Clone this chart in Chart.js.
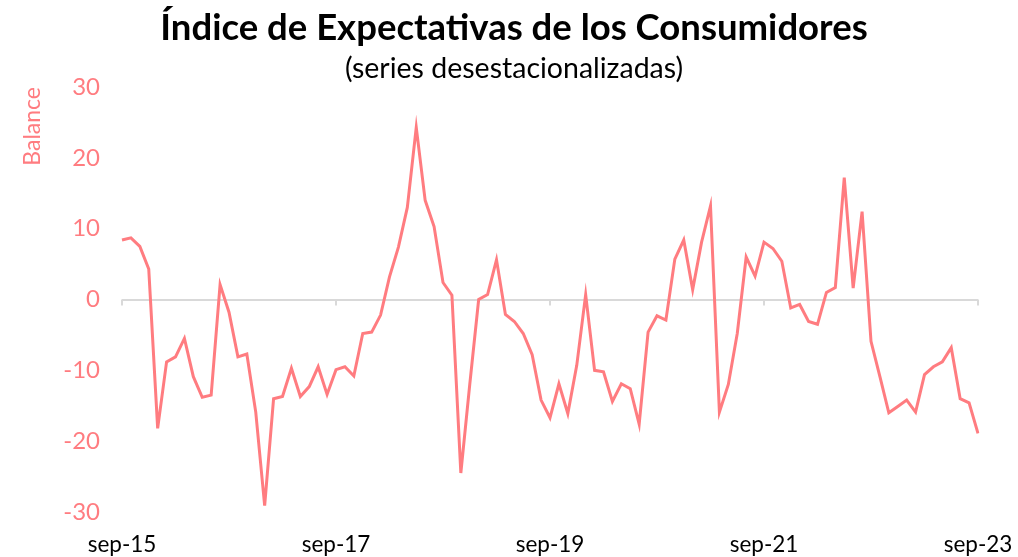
<!DOCTYPE html>
<html>
<head>
<meta charset="utf-8">
<script src="https://cdn.jsdelivr.net/npm/chart.js@4"></script>
<style>
  html, body { margin: 0; padding: 0; background: #fff; }
  #wrap { width: 1018px; height: 557px; }
</style>
</head>
<body>
<div id="wrap"><canvas id="chart"></canvas></div>
<script>
// months sep-15 .. sep-23
const months = ['ene', 'feb', 'mar', 'abr', 'may', 'jun', 'jul', 'ago', 'sep', 'oct', 'nov', 'dic'];
const labels = [];
for (let i = 0; i < 97; i++) {
  const m = (8 + i) % 12;
  const y = 15 + Math.floor((8 + i) / 12);
  labels.push(months[m] + '-' + y);
}

// Balance, series desestacionalizadas
const balance = [
  8.4, 8.7, 7.5, 4.3, -18.2, -8.8, -8.1, -5.5, -10.9, -13.8, -13.5, 2.1,
  -1.8, -8.1, -7.7, -15.9, -29.1, -14.0, -13.7, -9.7, -13.7, -12.3, -9.5, -13.4,
  -9.9, -9.5, -10.8, -4.8, -4.6, -2.2, 3.2, 7.4, 13.0, 24.3, 14.0, 10.3,
  2.4, 0.6, -24.5, -12.0, 0.0, 0.7, 5.6, -2.1, -3.1, -4.8, -7.8, -14.2,
  -16.7, -11.9, -16.1, -9.3, 0.7, -10.0, -10.2, -14.4, -11.9, -12.6, -17.6, -4.6,
  -2.3, -2.9, 5.7, 8.4, 1.4, 8.1, 13.2, -15.9, -12.0, -4.8, 6.0, 3.3,
  8.1, 7.2, 5.4, -1.2, -0.7, -3.1, -3.5, 1.0, 1.7, 17.2, 1.6, 12.4,
  -5.9, -10.9, -16.0, -15.1, -14.2, -15.9, -10.6, -9.5, -8.8, -6.8, -14.0, -14.6,
  -18.9
];

const yTicks = [-30, -20, -10, 0, 10, 20, 30];
const labelEvery = 24;

const pink = '#FF7C80';
const fontFam = 'Lato, "Open Sans", sans-serif';

// little tick marks hanging under the zero line
const zeroTicks = {
  id: 'zeroTicks',
  beforeDatasetsDraw(chart) {
    const { ctx, scales: { x, y } } = chart;
    const y0 = y.getPixelForValue(0);
    ctx.save();
    ctx.strokeStyle = '#d9d9d9';
    ctx.lineWidth = 2;
    ctx.beginPath();
    for (let i = 0; i < labels.length; i += labelEvery) {
      const px = x.getPixelForValue(i);
      ctx.moveTo(px, y0);
      ctx.lineTo(px, y0 + 6);
    }
    ctx.stroke();
    ctx.restore();
  }
};

new Chart(document.getElementById('chart'), {
  type: 'line',
  data: {
    labels: labels,
    datasets: [{
      label: 'Balance',
      data: balance,
      borderColor: pink,
      borderWidth: 3,
      pointRadius: 0,
      tension: 0
    }]
  },
  options: {
    responsive: true,
    maintainAspectRatio: false,
    animation: false,
    layout: { padding: { left: 10, right: 0, top: 0, bottom: 0 } },
    plugins: {
      legend: { display: false },
      tooltip: { enabled: false },
      title: {
        display: true,
        text: 'Índice de Expectativas de los Consumidores',
        color: '#000',
        font: { family: fontFam, size: 36.5, weight: 'bold' },
        padding: { top: 6, bottom: 1 }
      },
      subtitle: {
        display: true,
        text: '(series desestacionalizadas)',
        color: '#000',
        font: { family: fontFam, size: 28.5 },
        padding: { top: 1, bottom: 1 }
      }
    },
    scales: {
      x: {
        offset: false,
        afterFit: s => { s.height = 45; s.paddingRight = 40; },
        border: { display: false },
        grid: { display: false, drawTicks: false },
        ticks: {
          autoSkip: false,
          maxRotation: 0,
          padding: 19,
          color: '#000',
          font: { family: fontFam, size: 22.5 },
          callback: (v, i) => (i % labelEvery === 0 ? labels[i] : '')
        }
      },
      y: {
        min: -30,
        max: 30,
        afterBuildTicks: s => { s.ticks = yTicks.map(v => ({ value: v })); },
        afterFit: s => { s.width = 112; },
        border: { display: false },
        grid: {
          drawTicks: false,
          lineWidth: 2,
          color: c => (c.tick && c.tick.value === 0 ? '#d9d9d9' : 'rgba(0,0,0,0)')
        },
        ticks: {
          padding: 22,
          color: pink,
          font: { family: fontFam, size: 24 }
        },
        title: {
          display: true,
          text: 'Balance',
          align: 'end',
          color: pink,
          font: { family: fontFam, size: 23 },
          padding: { top: 9, bottom: 0 }
        }
      }
    }
  },
  plugins: [zeroTicks]
});
</script>
</body>
</html>
